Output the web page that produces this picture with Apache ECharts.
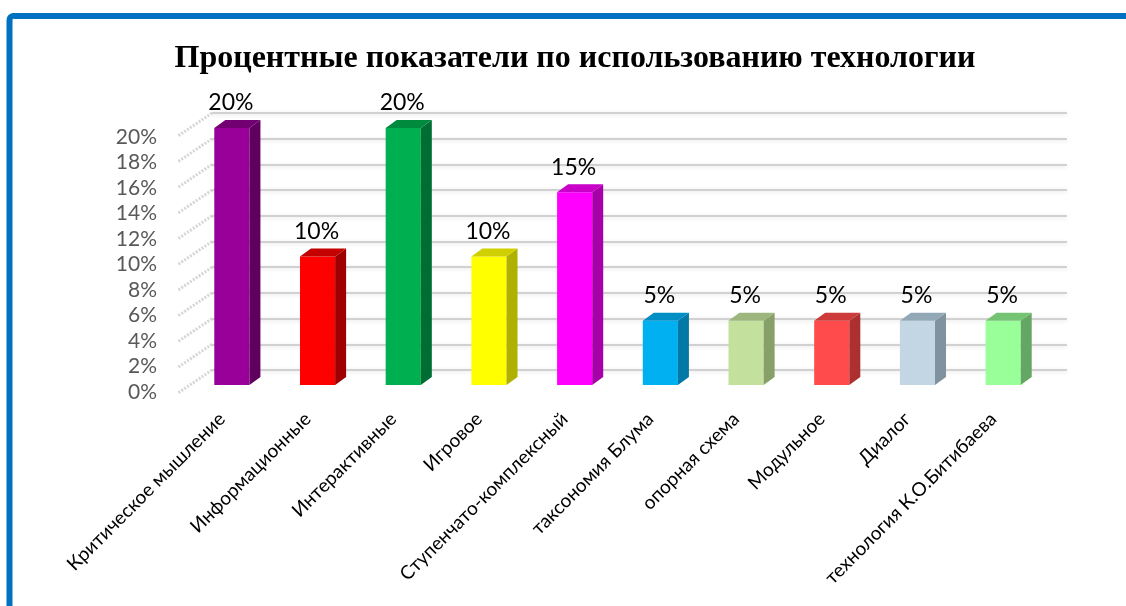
<!DOCTYPE html>
<html><head><meta charset="utf-8">
<style>html,body{margin:0;padding:0;background:#fff}#c{width:1126px;height:606px}</style>
<script src="https://cdn.jsdelivr.net/npm/echarts@6/dist/echarts.min.js"></script>
</head><body><div id="c"></div>
<script>
const categories = ['Критическое мышление','Информационные','Интерактивные','Игровое','Ступенчато-комплексный','таксономия Блума','опорная схема','Модульное','Диалог','технология К.О.Битибаева'];
const values = [20,10,20,10,15,5,5,5,5,5];
const frontColors = ['#990099','#ff0000','#00b050','#ffff00','#ff00ff','#00b0f0','#c3e09d','#ff4b4b','#c2d6e3','#99ff99'];
const sideColors = ['#5f005f','#9e0000','#006e32','#b0b000','#a800a8','#0079a6','#87a06a','#ad3030','#7f929e','#64a664'];
const topColors = ['#720072','#c40000','#008a3e','#d0d000','#c800c8','#008fc4','#9db67e','#cc3a3a','#93a8b6','#74c474'];
const yTicks = [0,2,4,6,8,10,12,14,16,18,20];
const titleText = 'Процентные показатели по использованию технологии';
const DEPTH_X = 11, DEPTH_Y = 8;
const pct = v => v + '%';

const chart = echarts.init(document.getElementById('c'), null, {renderer:'canvas'});
const hiddenX = {type:'category',data:categories,axisLine:{show:false},axisTick:{show:false},axisLabel:{show:false},splitLine:{show:false}};
const hiddenY = {type:'value',min:0,max:20,interval:2,axisLine:{show:false},axisTick:{show:false},axisLabel:{show:false},splitLine:{show:false}};
chart.setOption({
  animation:false,
  backgroundColor:'#fff',
  title:{text:titleText,left:570,top:38,textAlign:'center',textStyle:{fontFamily:'Liberation Serif',fontWeight:'bold',fontSize:32,color:'#000'}},
  graphic:[{type:'rect',silent:true,z:0,shape:{x:9.5,y:16,width:1300,height:800,r:4},style:{fill:'none',stroke:'#0070c0',lineWidth:6}}],
  grid:[
    {left:212,top:113,width:855,height:257},
    {left:189,top:128,width:857,height:257},
    {left:170,top:137,width:857,height:255}
  ],
  xAxis:[
    Object.assign({},hiddenX,{gridIndex:0}),
    {type:'category',gridIndex:1,data:categories,axisLine:{show:false},axisTick:{show:false},
     axisLabel:{rotate:45,interval:0,margin:21,padding:[0,14,0,0],fontFamily:'Lato',fontSize:19,color:'#000'}},
    Object.assign({},hiddenX,{gridIndex:2})
  ],
  yAxis:[
    Object.assign({},hiddenY,{gridIndex:0,splitLine:{show:true,lineStyle:{color:'#c4c4c4',width:1.5,shadowColor:'rgba(0,0,0,0.16)',shadowBlur:4,shadowOffsetY:1}}}),
    Object.assign({},hiddenY,{gridIndex:1}),
    Object.assign({},hiddenY,{gridIndex:2,axisLabel:{show:true,margin:13,formatter:v=>pct(v),fontFamily:'Lato',fontSize:21,color:'#595959'}})
  ],
  series:[
    {type:'custom',xAxisIndex:0,yAxisIndex:0,z:2,clip:false,silent:true,
     data:yTicks.map(v=>[0,v]),encode:{x:0,y:1},
     renderItem:(p,api)=>{
       const y = api.coord([0,api.value(1)])[1], x = p.coordSys.x;
       return {type:'line',shape:{x1:x,y1:y,x2:x-34,y2:y+23},
         style:{stroke:'#cfcfcf',lineWidth:3,lineDash:[2,1.5],opacity:.85}};
     }},
    {type:'custom',xAxisIndex:1,yAxisIndex:1,z:3,clip:false,silent:true,
     data:values.map((v,i)=>[i,v]),encode:{x:0,y:1},
     renderItem:(p,api)=>{
       const i = api.value(0), v = api.value(1);
       const t = api.coord([i,v]), b = api.coord([i,0]);
       const w = api.size([1,0])[0]*0.41, l = t[0]-w/2, r = t[0]+w/2;
       const poly = (pts,fill)=>({type:'polygon',shape:{points:pts},style:{fill}});
       return {type:'group',children:[
         poly([[l,t[1]],[r,t[1]],[r,b[1]],[l,b[1]]],frontColors[i]),
         poly([[r,t[1]],[r+DEPTH_X,t[1]-DEPTH_Y],[r+DEPTH_X,b[1]-DEPTH_Y],[r,b[1]]],sideColors[i]),
         poly([[l,t[1]],[l+DEPTH_X,t[1]-DEPTH_Y],[r+DEPTH_X,t[1]-DEPTH_Y],[r,t[1]]],topColors[i]),
         {type:'text',style:{text:pct(v),x:t[0]-1,y:t[1]-25,align:'center',verticalAlign:'middle',fill:'#000',fontFamily:'Lato',fontSize:23}}
       ]};
     }}
  ]
});
</script></body></html>
